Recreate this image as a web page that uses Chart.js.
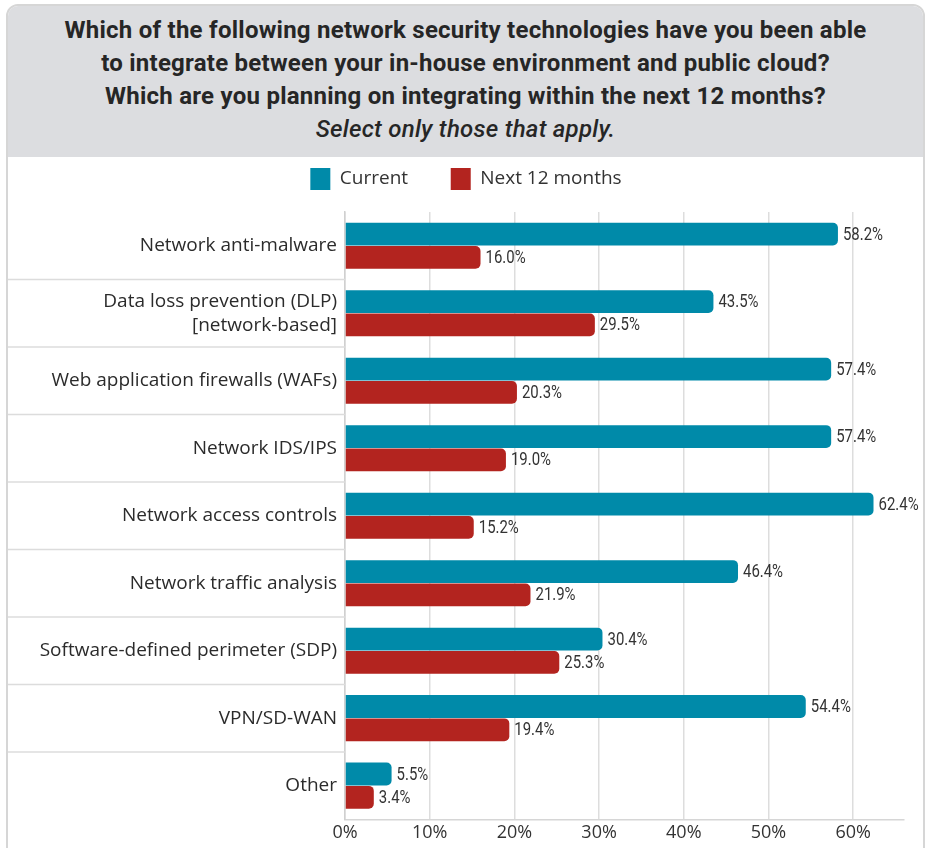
<!DOCTYPE html>
<html>
<head>
<meta charset="utf-8">
<script src="https://cdn.jsdelivr.net/npm/chart.js@4"></script>
<style>
  body { margin: 0; background: #fff; overflow: hidden; }
  #box {
    position: absolute; left: 6px; top: 4px; width: 915px; height: 900px;
    border: 2px solid #d6d6d6; border-radius: 12px 12px 0 0; overflow: hidden;
  }
  #head {
    height: 151px; background: #dcdde0; text-align: center;
    font-family: Roboto, "DejaVu Sans Condensed", sans-serif;
    font-weight: bold; font-size: 24px; line-height: 33px; color: #262626;
    letter-spacing: 0.25px;
    padding-top: 8px; box-sizing: border-box;
  }
  #head i { font-weight: 500; font-style: italic; }
  #wrap { position: absolute; left: 0; top: 151px; width: 915px; height: 693px; }
</style>
</head>
<body>
<div id="box">
  <div id="head">
    Which of the following network security technologies have you been able<br>
    to integrate between your in-house environment and public cloud?<br>
    Which are you planning on integrating within the next 12 months?<br>
    <i>Select only those that apply.</i>
  </div>
  <div id="wrap"><canvas id="chart"></canvas></div>
</div>
<script>
// ----------------- Data -----------------
const categories = [
  'Network anti-malware',
  ['Data loss prevention (DLP)', '[network-based]'],
  'Web application firewalls (WAFs)',
  'Network IDS/IPS',
  'Network access controls',
  'Network traffic analysis',
  'Software-defined perimeter (SDP)',
  'VPN/SD-WAN',
  'Other'
];
const current = [58.2, 43.5, 57.4, 57.4, 62.4, 46.4, 30.4, 54.4, 5.5];
const next12 = [16.0, 29.5, 20.3, 19.0, 15.2, 21.9, 25.3, 19.4, 3.4];
const tickValues = [0, 10, 20, 30, 40, 50, 60];

const labelFont = '"Open Sans", "Noto Sans", sans-serif';

// separators between categories, only in the label area
const separators = {
  id: 'separators',
  beforeLayout(chart) {
    // leave some room under the legend
    const lg = chart.legend;
    if (lg && !lg._patched) {
      const fit = lg.fit.bind(lg);
      lg.fit = function () { fit(); this.height += 12; };
      lg._patched = true;
    }
  },
  afterLayout(chart) {
    // nudge the legend a bit to the right
    if (chart.legend) { chart.legend.left += 10; chart.legend.right += 10; }
  },
  afterDraw(chart) {
    const y = chart.scales.y, c = chart.ctx;
    c.save();
    c.strokeStyle = '#dcdcdc';
    c.lineWidth = 1.5;
    for (let i = 1; i < categories.length; i++) {
      const py = (y.getPixelForValue(i - 1) + y.getPixelForValue(i)) / 2;
      c.beginPath();
      c.moveTo(0, py);
      c.lineTo(chart.chartArea.left, py);
      c.stroke();
    }
    c.restore();
  }
};

// value labels at the bar ends (narrowed Roboto)
const valueLabels = {
  id: 'valueLabels',
  afterDatasetsDraw(chart) {
    const c = chart.ctx;
    chart.data.datasets.forEach((ds, di) => {
      chart.getDatasetMeta(di).data.forEach((bar, i) => {
        c.save();
        c.font = '18px Roboto, sans-serif';
        c.fillStyle = '#333';
        c.textBaseline = 'middle';
        c.translate(bar.x + 5, bar.y + 1);
        c.scale(0.83, 1);
        c.fillText(ds.data[i].toFixed(1) + '%', 0, 0);
        c.restore();
      });
    });
  }
};

new Chart(document.getElementById('chart'), {
  type: 'bar',
  data: {
    labels: categories,
    datasets: [
      { label: 'Current', data: current, backgroundColor: '#008aa9' },
      { label: 'Next 12 months', data: next12, backgroundColor: '#b3241f' }
    ]
  },
  options: {
    indexAxis: 'y',
    responsive: true,
    maintainAspectRatio: false,
    animation: false,
    categoryPercentage: 0.69,
    barPercentage: 0.98,
    borderRadius: 5,
    layout: { padding: { top: 0, right: 19, bottom: 3, left: 0 } },
    plugins: {
      legend: {
        labels: {
          boxWidth: 20, boxHeight: 22, padding: 11,
          color: '#333', font: { family: labelFont, size: 19 },
          generateLabels: chart => {
            const items = Chart.defaults.plugins.legend.labels.generateLabels(chart);
            items[0].text += '\u2003\u2002\u2009';
            return items;
          }
        }
      },
      tooltip: { enabled: false }
    },
    scales: {
      x: {
        min: 0, max: 66,
        afterBuildTicks: s => { s.ticks = tickValues.map(v => ({ value: v })); },
        ticks: {
          callback: v => v + '%',
          color: '#333', padding: 3,
          font: { family: labelFont, size: 18 }
        },
        grid: { color: '#dddddd', lineWidth: 1.5, drawTicks: false },
        border: { color: '#d6d6d6', width: 1.5 }
      },
      y: {
        afterFit: s => { s.width = 337; },
        ticks: {
          color: '#2b2b2b', padding: 8,
          font: { family: labelFont, size: 19, lineHeight: 1.25 }
        },
        grid: { display: false, drawTicks: false },
        border: { color: '#d0d0d0', width: 1.5 }
      }
    }
  },
  plugins: [separators, valueLabels]
});
</script>
</body>
</html>
